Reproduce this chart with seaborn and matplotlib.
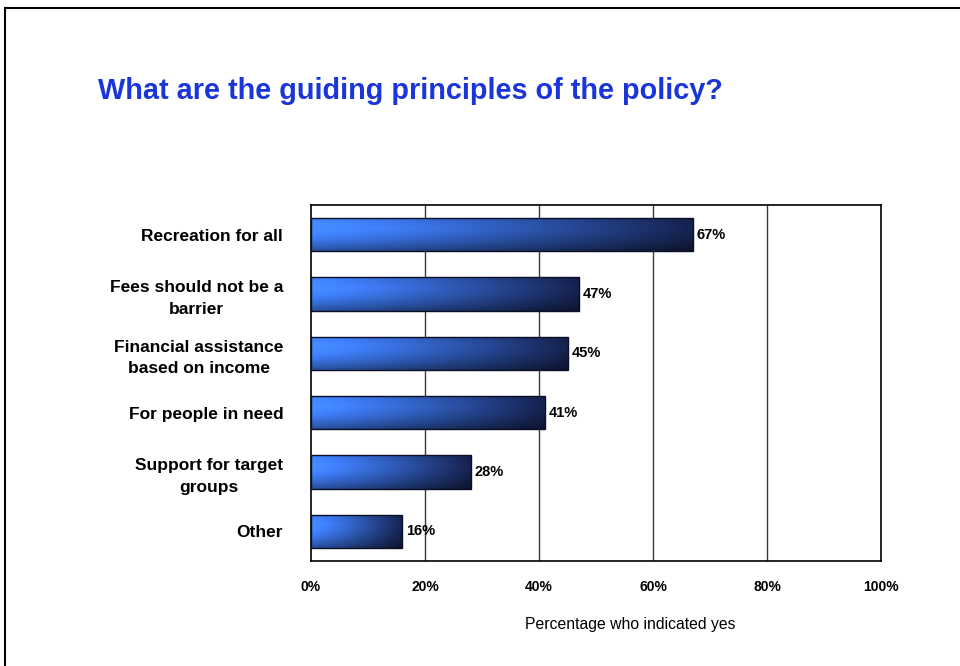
import numpy as np
import pandas as pd
import matplotlib
matplotlib.use("Agg")
import matplotlib.pyplot as plt
from matplotlib.patches import Rectangle
import seaborn as sns

categories = [
    "Recreation for all",
    "Fees should not be a\nbarrier",
    "Financial assistance\nbased on income",
    "For people in need",
    "Support for target\ngroups",
    "Other",
]
values = [67, 47, 45, 41, 28, 16]
xticks = [0, 20, 40, 60, 80, 100]
xtick_labels = ["0%", "20%", "40%", "60%", "80%", "100%"]

sns.set_theme(style="white")
plt.rcParams["font.family"] = ["Liberation Sans", "DejaVu Sans"]

df = pd.DataFrame({"principle": categories, "pct": values})

fig = plt.figure(figsize=(9.6, 6.66), dpi=100)
fig.patch.set_facecolor("white")
ax = fig.add_axes([311 / 960, 1 - 561 / 666, 570 / 960, 356 / 666])

sns.barplot(data=df, x="pct", y="principle", orient="h", ax=ax,
            width=0.56, color="#3f80ff", edgecolor="#0a0f25", linewidth=1.0,
            zorder=3)

ax.set_xlim(0, 100)
ax.set_ylim(5.5, -0.5)

# gradient fill: bright blue on the left fading to navy on the right,
# with a light band near the top and darker shading along the bottom
left_c = np.array([0x40, 0x82, 0xff]) / 255
right_c = np.array([0x14, 0x1f, 0x48]) / 255
nx, ny = 256, 64
t = np.linspace(0, 1, nx) ** 1.15
base = left_c[None, :] * (1 - t[:, None]) + right_c[None, :] * t[:, None]
yy = np.linspace(0, 1, ny)
shade = 1.0 + 0.10 * np.exp(-((yy - 0.3) / 0.2) ** 2) - 0.4 * np.clip((yy - 0.5) / 0.5, 0, 1) ** 1.5
img = np.clip(base[None, :, :] * shade[:, None, None], 0, 1)

for patch in ax.patches:
    x0, y0 = patch.get_x(), patch.get_y()
    w, h = patch.get_width(), patch.get_height()
    im = ax.imshow(img, extent=[x0, x0 + w, y0 + h, y0], aspect="auto",
                   origin="upper", zorder=3, interpolation="bilinear")
    im.set_clip_path(patch)
    patch.set_facecolor("none")
    patch.set_zorder(4)

for i, v in enumerate(values):
    ax.text(v + 0.7, i, f"{v}%", va="center", ha="left",
            fontsize=10.5, fontweight="bold", color="black", zorder=5)

ax.set_xticks(xticks)
ax.set_xticklabels(xtick_labels, fontsize=10, fontweight="bold")
ax.set_yticks(range(len(categories)))
ax.set_yticklabels(categories, fontsize=12.5, fontweight="bold",
                   multialignment="center", linespacing=1.55)
ax.tick_params(axis="x", length=0, pad=14, colors="black")
ax.tick_params(axis="y", length=0, pad=20, colors="black")
ax.set_xlabel("")
ax.set_ylabel("")

for x in xticks[1:-1]:
    ax.axvline(x, color="#3a3a3a", linewidth=1.0, zorder=1)

for side in ["left", "right", "top", "bottom"]:
    ax.spines[side].set_visible(True)
    ax.spines[side].set_color("black")
    ax.spines[side].set_linewidth(1.2)

fig.text(98 / 960, 1 - 91 / 666, "What are the guiding principles of the policy?",
         fontsize=20.8, fontweight="bold", color="#1a36d8", ha="left", va="center")
fig.text(630 / 960, 1 - 625 / 666, "Percentage who indicated yes",
         fontsize=11.3, color="black", ha="center", va="center")

fig.patches.append(Rectangle((5 / 960, -0.5), 2.0, 0.5 + (1 - 8 / 666),
                             transform=fig.transFigure, fill=False,
                             edgecolor="black", linewidth=1.5))

fig.savefig("out.png", dpi=100)
